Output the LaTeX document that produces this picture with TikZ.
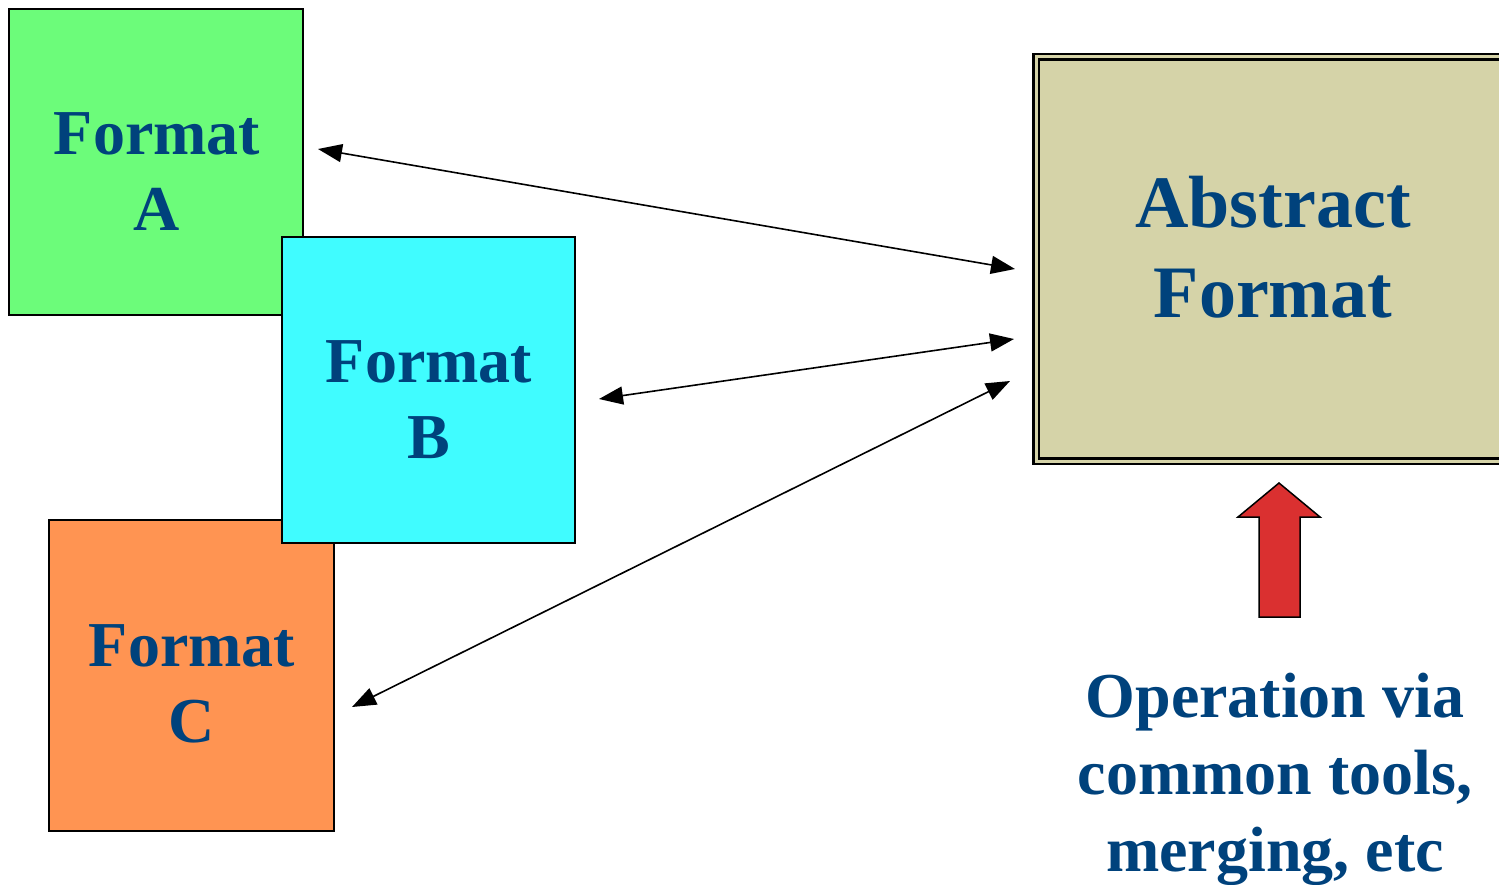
\documentclass[tikz,border=0pt]{standalone}
\usepackage{fontspec}
\setmainfont{Liberation Serif}
\usetikzlibrary{arrows.meta}

\definecolor{fmtgreen}{RGB}{108,252,122}
\definecolor{fmtcyan}{RGB}{64,252,255}
\definecolor{fmtorange}{RGB}{255,148,82}
\definecolor{absfill}{RGB}{213,211,168}
\definecolor{txtblue}{RGB}{0,66,124}
\definecolor{opred}{RGB}{218,48,48}

\tikzset{
  fmtbox/.style={draw=black, line width=1.5pt, rectangle, inner sep=0pt},
  bigtxt/.style={text=txtblue, align=center, inner sep=0pt,
    font=\bfseries\fontsize{64}{76}\selectfont},
  link/.style={line width=1.6pt,
    {Triangle[length=24pt,width=18pt]}-{Triangle[length=24pt,width=18pt]}},
}

\begin{document}
\begin{tikzpicture}[x=1pt,y=-1pt]
  \useasboundingbox (0,0) rectangle (1499,885);

  % format boxes (B lies over A and C)
  \node[fmtbox, fill=fmtgreen, minimum width=294pt, minimum height=306pt]
    (boxA) at (156,162) {};
  \node[fmtbox, fill=fmtorange, minimum width=285pt, minimum height=311pt]
    (boxC) at (191.5,675.5) {};
  \node[fmtbox, fill=fmtcyan, minimum width=293pt, minimum height=306pt]
    (boxB) at (428.5,390) {};

  \node[bigtxt] (txtA) at (157,172) {Format\\A};
  \node[bigtxt] (txtB) at (429,400) {Format\\B};
  \node[bigtxt] (txtC) at (192,684) {Format\\C};

  % abstract format box with a double frame
  \node[draw=black, line width=2.2pt, double=absfill, double distance=3pt,
        fill=absfill, rectangle, inner sep=0pt,
        minimum width=484pt, minimum height=404pt] (abs) at (1278,259) {};
  \node[bigtxt, font=\bfseries\fontsize{74}{90}\selectfont] (txtAbs)
    at (1273,247) {Abstract\\Format};

  % connector end points
  \coordinate (aL) at (318,149);
  \coordinate (aR) at (1015,269);
  \coordinate (bL) at (599,399);
  \coordinate (bR) at (1014,339);
  \coordinate (cL) at (352,707);
  \coordinate (cR) at (1010,381);

  \draw[link] (aL) -- (aR);
  \draw[link] (bL) -- (bR);
  \draw[link] (cL) -- (cR);

  % upward block arrow
  \draw[draw=black, line width=1.5pt, fill=opred, line join=miter]
    (1279,483) -- (1320,517) -- (1300,517) -- (1300,617) -- (1259,617)
    -- (1259,517) -- (1238,517) -- cycle;

  \node[bigtxt, font=\bfseries\fontsize{64}{77}\selectfont] (txtOp)
    at (1275,779) {Operation via\\common tools,\\merging, etc};
\end{tikzpicture}
\end{document}
